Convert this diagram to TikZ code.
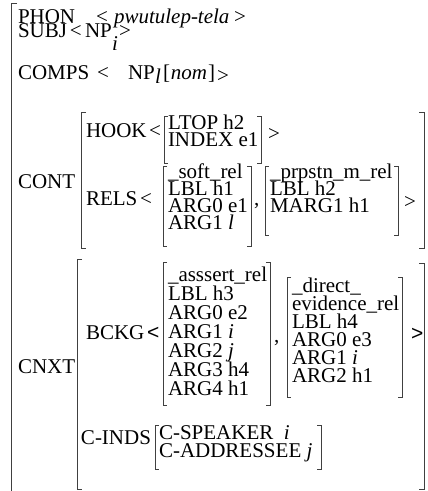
\documentclass[tikz,border=0pt]{standalone}
\usepackage{fontspec}
\setmainfont{Liberation Serif}
\newfontfamily\lsans{Liberation Sans}
\newcommand\LBr[4]{\draw[brk] (#1+#4,#2) -- (#1,#2) -- (#1,#3) -- (#1+#4,#3);}
\newcommand\RBr[4]{\draw[brk] (#1-#4,#2) -- (#1,#2) -- (#1,#3) -- (#1-#4,#3);}
\begin{document}
\begin{tikzpicture}[x=1pt,y=-1pt,
  T/.style={anchor=base west,inner sep=0pt,outer sep=0pt,font=\fontsize{21}{22}\selectfont},
  brk/.style={draw=black!75,line width=1pt}]
\useasboundingbox (0,0) rectangle (428,491);
% outer bracket
\draw[brk] (17,3) -- (11,3) -- (11,492);
% PHON
\node[T] (phon) at (18,23) {PHON};
\node[T] (phonl) at (96,23) {<};
\node[T] (phonv) at (114,23) {\itshape pwutulep-tela};
\node[T] (phonr) at (234,23) {>};
% SUBJ
\node[T] (subj) at (18,37.5) {SUBJ};
\node[T] (subjl) at (70,37.5) {<};
\node[T] (subjnp) at (85,37.5) {NP};
\node[T] (subji) at (112,50) {\itshape i};
\node[T] (subjr) at (119,37.5) {>};
% COMPS
\node[T] (comps) at (18,79) {COMPS};
\node[T] (compsl) at (97,79) {<};
\node[T] (compsnp) at (128,79) {NP};
\node[T] (compsi) at (155,83) {\itshape l};
\node[T] (compsb) at (163,79) {[\kern1pt\itshape nom\kern1pt\upshape]};
\node[T] (compsr) at (217,82) {>};
% CONT
\LBr{81}{112}{248}{5}
\RBr{424}{112}{248}{5}
\node[T] (cont) at (18,188) {CONT};
\node[T] (hook) at (86,137) {HOOK};
\node[T] (hookl) at (149,137) {<};
\LBr{164}{116}{163}{4}
\node[T] (ltop) at (168,129) {LTOP h2};
\node[T] (index) at (168,146) {INDEX e1};
\RBr{261}{116}{163}{4}
\node[T] (hookr) at (268,140) {>};
\node[T] (rels) at (86,205) {RELS};
\node[T] (relsl) at (140,205) {<};
\LBr{163}{166}{246}{4}
\node[T] (s1) at (168,178) {\_soft\_rel};
\node[T] (s2) at (168,195) {LBL h1};
\node[T] (s3) at (168,212) {ARG0 e1};
\node[T] (s4) at (168,229) {ARG1 \itshape l};
\RBr{251}{166}{246}{4}
\node[T] (relsc) at (254,205) {,};
\LBr{265}{166}{235}{4}
\node[T] (p1) at (270,178) {\_prpstn\_m\_rel};
\node[T] (p2) at (270,195) {LBL h2};
\node[T] (p3) at (270,212) {MARG1 h1};
\RBr{398}{166}{235}{4}
\node[T] (relsr) at (404,208) {>};
% CNXT
\LBr{77}{259}{489}{5}
\RBr{424}{263}{489}{5}
\node[T] (cnxt) at (18,373) {CNXT};
\node[T] (bckg) at (86,339) {BCKG};
\node[T] (bckgl) at (147,339) {\lsans <};
\LBr{163}{262}{405}{4}
\node[T] (a1) at (168,281) {\_asssert\_rel};
\node[T] (a2) at (168,300) {LBL h3};
\node[T] (a3) at (168,319) {ARG0 e2};
\node[T] (a4) at (168,338) {ARG1 \itshape i};
\node[T] (a5) at (168,357) {ARG2 \itshape j};
\node[T] (a6) at (168,376) {ARG3 h4};
\node[T] (a7) at (168,395) {ARG4 h1};
\RBr{270}{262}{405}{4}
\node[T] (bckgc) at (274,342) {,};
\LBr{287}{277}{397}{4}
\node[T] (d1) at (292,292) {\_direct\_};
\node[T] (d2) at (292,310) {evidence\_rel};
\node[T] (d3) at (292,328) {LBL h4};
\node[T] (d4) at (292,346) {ARG0 e3};
\node[T] (d5) at (292,364) {ARG1 \itshape i};
\node[T] (d6) at (292,382) {ARG2 h1};
\RBr{402}{277}{397}{4}
\node[T] (bckgr) at (411,340) {\lsans >};
\node[T] (cinds) at (81,444) {C-INDS};
\LBr{155}{425}{469}{4}
\node[T] (c1) at (159,439) {C-SPEAKER\ \ \itshape i};
\node[T] (c2) at (159,457) {C-ADDRESSEE \itshape j};
\RBr{321}{425}{469}{4}
\end{tikzpicture}
\end{document}
